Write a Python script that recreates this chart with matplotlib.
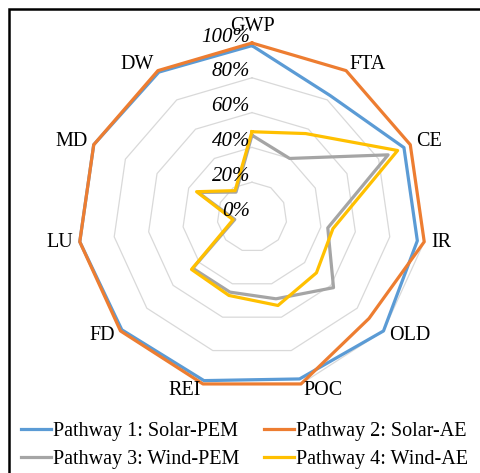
import numpy as np
import matplotlib.pyplot as plt
from matplotlib.patches import Rectangle
from matplotlib.lines import Line2D

# Data (share of the highest value in each category)
categories = ['GWP', 'FTA', 'CE', 'IR', 'OLD', 'POC', 'REI', 'FD', 'LU', 'MD', 'DW']
solar_pem = [0.985, 0.83, 0.96, 0.96, 1.00, 0.97, 0.98, 0.99, 1.00, 1.00, 0.99]
solar_ae = [1.00, 1.00, 1.00, 1.00, 0.89, 1.00, 1.00, 1.00, 1.00, 1.00, 1.00]
wind_pem = [0.47, 0.40, 0.86, 0.44, 0.62, 0.49, 0.45, 0.45, 0.10, 0.34, 0.17]
wind_ae = [0.49, 0.57, 0.92, 0.47, 0.49, 0.53, 0.47, 0.46, 0.11, 0.35, 0.18]
series_names = ['Pathway 1: Solar-PEM', 'Pathway 2: Solar-AE',
                'Pathway 3: Wind-PEM', 'Pathway 4: Wind-AE']
colors = ['#5B9BD5', '#ED7D31', '#A5A5A5', '#FFC000']
ticks = [0.0, 0.2, 0.4, 0.6, 0.8, 1.0]
tick_labels = ['0%', '20%', '40%', '60%', '80%', '100%']

plt.rcParams['font.family'] = ['Liberation Serif', 'DejaVu Serif']

W, H = 481, 473
fig = plt.figure(figsize=(W / 100, H / 100), dpi=100)
cx, cy, R = 252, 217, 174
ax = fig.add_axes([(cx - R) / W, (H - cy - R) / H, 2 * R / W, 2 * R / H],
                  projection='polar')
ax.set_theta_zero_location('N')
ax.set_theta_direction(-1)
ax.set_ylim(0, 1)
ax.axis('off')

n = len(categories)
theta = np.arange(n) * 2 * np.pi / n
theta_c = np.append(theta, theta[0])

# polygon gridlines
for t in ticks[1:]:
    ax.plot(theta_c, [t] * (n + 1), color='#D9D9D9', lw=0.9, zorder=1, clip_on=False)

# series
for vals, c in zip([solar_pem, solar_ae, wind_pem, wind_ae], colors):
    v = np.append(vals, vals[0])
    ax.plot(theta_c, v, color=c, lw=2.3, zorder=3, clip_on=False,
            solid_joinstyle='round')

# value labels along the first axis
for t, lab in zip(ticks, tick_labels):
    ax.annotate(lab, (0, t), xytext=(-2, 6), textcoords='offset pixels',
                ha='right', va='center', fontsize=15, style='italic', zorder=4)

# category labels
for th, lab in zip(theta, categories):
    s = np.sin(th)
    if abs(s) < 0.1:
        ha, va = 'center', 'bottom'
    else:
        ha, va = ('left' if s > 0 else 'right'), 'center'
    ax.text(th, 1.04, lab, ha=ha, va=va, fontsize=14.5, zorder=4)

# legend filled row by row (matplotlib fills columns first)
order = [0, 2, 1, 3]
handles = [Line2D([], [], color=colors[i], lw=2.3) for i in order]
fig.legend(handles, [series_names[i] for i in order], ncol=2, frameon=False,
           fontsize=14.5, loc='lower left', bbox_to_anchor=(0.006, -0.03),
           handlelength=1.5, handletextpad=0.1, columnspacing=1.2,
           labelspacing=0.45)

# page frame
fig.add_artist(Rectangle((8.5 / W, -0.1), 2, (H - 9.5) / H + 0.1,
                         transform=fig.transFigure, fill=False,
                         lw=1.8, ec='black'))

fig.savefig('out.png', dpi=100)
